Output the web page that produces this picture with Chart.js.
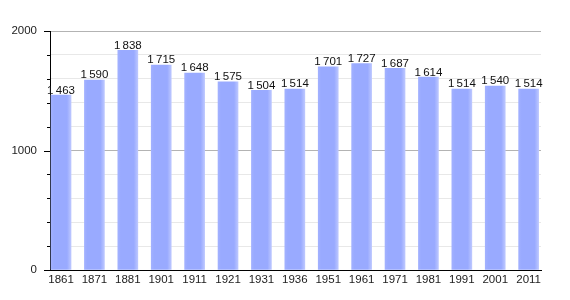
<!DOCTYPE html>
<html>
<head>
<meta charset="utf-8">
<script src="https://cdn.jsdelivr.net/npm/chart.js@4"></script>
<style>
  html, body { margin: 0; padding: 0; background: #fff; }
  #wrap { width: 570px; height: 300px; }
</style>
</head>
<body>
<div id="wrap"><canvas id="myChart" width="570" height="300"></canvas></div>
<script>
// données
const years = ['1861', '1871', '1881', '1901', '1911', '1921', '1931', '1936', '1951', '1961', '1971', '1981', '1991', '2001', '2011'];
const population = [1463, 1590, 1838, 1715, 1648, 1575, 1504, 1514, 1701, 1727, 1687, 1614, 1514, 1540, 1514];
const yTicks = [0, 1000, 2000];

const FONT = '"Liberation Sans", Arial, sans-serif';

// format "1 463"
function fmt(v) {
    const s = String(v);
    return s.length > 3 ? s.slice(0, -3) + '\u2009' + s.slice(-3) : s;
}

// couleur des barres (léger dégradé)
function barColor(context) {
    const chart = context.chart;
    if (!chart.chartArea || !chart.scales.x) return '#9aabff';
    const x = chart.scales.x.getPixelForValue(context.dataIndex);
    const g = chart.ctx.createLinearGradient(x - 10, 0, x + 10, 0);
    g.addColorStop(0, '#a2b1ff');
    g.addColorStop(0.15, '#99aaff');
    g.addColorStop(0.8, '#99aaff');
    g.addColorStop(1, '#bcc7ff');
    return g;
}

// étiquettes + petites graduations
const extras = {
    id: 'extras',
    afterDatasetsDraw(chart) {
        const ctx = chart.ctx;
        const meta = chart.getDatasetMeta(0);
        ctx.save();
        ctx.font = '11.5px ' + FONT;
        ctx.fillStyle = '#111';
        ctx.textAlign = 'center';
        ctx.textBaseline = 'bottom';
        meta.data.forEach(function (bar, i) {
            ctx.fillText(fmt(population[i]), bar.x, bar.y + 1);
        });
        // graduations gauche
        const y = chart.scales.y;
        const left = chart.chartArea.left;
        ctx.strokeStyle = '#000';
        ctx.lineWidth = 1;
        for (let v = 0; v <= 2000; v += 200) {
            const py = Math.round(y.getPixelForValue(v)) + 0.5;
            const len = yTicks.includes(v) ? 6 : 3;
            ctx.beginPath();
            ctx.moveTo(left - len, py);
            ctx.lineTo(left, py);
            ctx.stroke();
        }
        ctx.restore();
    }
};

new Chart(document.getElementById('myChart').getContext('2d'), {
    type: 'bar',
    data: {
        datasets: [{
            data: population.map(function (v, i) { return { x: i, y: v }; }),
            backgroundColor: barColor,
            borderWidth: 0,
            barThickness: 20
        }]
    },
    options: {
        responsive: false,
        animation: false,
        layout: { padding: { top: 31, right: 29, left: 0, bottom: 0 } },
        plugins: {
            legend: { display: false },
            tooltip: { enabled: false }
        },
        scales: {
            x: {
                type: 'linear',
                offset: false,
                min: -0.33,
                max: 14.37,
                afterBuildTicks: function (scale) {
                    scale.ticks = years.map(function (_, i) { return { value: i }; });
                },
                afterFit: function (scale) { scale.height = 30; },
                grid: { display: false, drawTicks: false, offset: false },
                border: { display: true, color: '#000', width: 1 },
                ticks: {
                    autoSkip: false,
                    maxRotation: 0,
                    padding: 3,
                    color: '#222',
                    font: { family: FONT, size: 11.5 },
                    callback: function (v) { return years[v]; }
                }
            },
            y: {
                min: 0,
                max: 2000,
                afterBuildTicks: function (scale) {
                    const t = [];
                    for (let v = 0; v <= 2000; v += 200) t.push({ value: v });
                    scale.ticks = t;
                },
                afterFit: function (scale) { scale.width = 50; },
                grid: {
                    drawTicks: false,
                    color: function (c) {
                        if (c.tick && c.tick.value === 0) return 'rgba(0,0,0,0)';
                        return yTicks.includes(c.tick && c.tick.value) ? '#b3b3b3' : '#e8e8e8';
                    }
                },
                border: { display: true, color: '#000', width: 1 },
                ticks: {
                    padding: 13,
                    color: '#222',
                    font: { family: FONT, size: 11.5 },
                    callback: function (v) { return yTicks.includes(v) ? String(v) : ''; }
                }
            }
        }
    },
    plugins: [extras]
});
</script>
</body>
</html>
